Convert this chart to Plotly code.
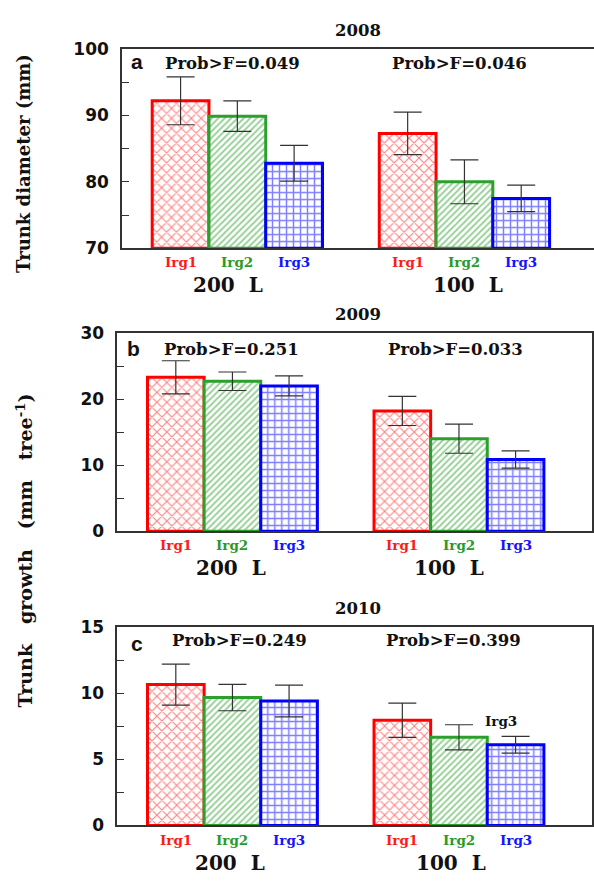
import plotly.graph_objects as go

W, H = 594, 884

# ---------------- data ----------------
treatments = ["Irg1", "Irg2", "Irg3"]
volumes = ["200\u00a0\u00a0L", "100\u00a0\u00a0L"]
years = ["2008", "2009", "2010"]
panel_letters = ["a", "b", "c"]

# rows: Irg1, Irg2, Irg3 ; columns: 200 L, 100 L
means_2008 = [[92.2, 87.3], [89.9, 80.0], [82.8, 77.5]]
errs_2008 = [[3.6, 3.2], [2.3, 3.3], [2.7, 2.0]]
means_2009 = [[23.3, 18.2], [22.7, 14.0], [22.0, 10.85]]
errs_2009 = [[2.5, 2.2], [1.4, 2.2], [1.5, 1.3]]
means_2010 = [[10.65, 7.95], [9.67, 6.66], [9.4, 6.1]]
errs_2010 = [[1.55, 1.3], [1.0, 0.95], [1.2, 0.63]]

prob_2008 = ["0.049", "0.046"]
prob_2009 = ["0.251", "0.033"]
prob_2010 = ["0.249", "0.399"]

y_ranges = [[70, 100], [0, 30], [0, 15]]
y_dticks = [10, 10, 5]
y_titles = ["Trunk\u00a0diameter\u00a0(mm)",
            "Trunk\u00a0\u00a0\u00a0growth\u00a0\u00a0\u00a0(mm\u00a0\u00a0\u00a0tree<sup>-1</sup>)"]
extra_label = "Irg3"

# ---------------- styles ----------------
colors = ["#ff0000", "#2ca02c", "#0000ff"]
label_colors = ["#ff1a1a", "#2a9a2a", "#1414ff"]
patterns = [
    dict(shape="x", size=7, solidity=0.28),
    dict(shape="/", size=4.5, solidity=0.4),
    dict(shape="+", size=7, solidity=0.38),
]
AX = "#333333"
SERIF = "DejaVu Serif"
TXT = "#111111"


def px_x(x):
    return x / W


def px_y(y):
    return 1 - y / H


# panel geometry in pixels: (left, top, right, bottom)
panels_px = [(122, 40, 594, 243.7), (117.3, 330.5, 591.7, 533.3), (117.3, 631.3, 591.7, 834.3)]
bar_px = [56.77, 56.63, 56.63]

means_all = [means_2008, means_2009, means_2010]
errs_all = [errs_2008, errs_2009, errs_2010]
probs_all = [prob_2008, prob_2009, prob_2010]

fig = go.Figure()

# positions: group g, treatment t  -> 4*g + t + 1
positions = [[4 * g + t + 1 for g in range(len(volumes))] for t in range(len(treatments))]

for i in range(3):
    xa = "x" if i == 0 else f"x{i+1}"
    ya = "y" if i == 0 else f"y{i+1}"
    for t in range(len(treatments)):
        fig.add_trace(go.Bar(
            x=positions[t],
            y=[means_all[i][t][g] - y_ranges[i][0] for g in range(len(volumes))],
            base=y_ranges[i][0],
            width=1,
            xaxis=xa, yaxis=ya,
            marker=dict(
                color="white",
                line=dict(color=colors[t], width=3),
                pattern=dict(fgcolor=colors[t], bgcolor="white", **patterns[t]),
            ),
            error_y=dict(type="data", array=errs_all[i][t], color=AX, thickness=1.2, width=14),
            showlegend=False,
        ))

layout = dict(
    width=W, height=H, margin=dict(l=0, r=0, t=0, b=0),
    paper_bgcolor="white", plot_bgcolor="white",
    barmode="overlay", showlegend=False,
)

annotations = []
group_label_x = [(228, 468), (231, 449), (230, 451)]
for i in range(3):
    L, T, R, B = panels_px[i]
    bw = bar_px[i]
    x0 = 0.5 - 30.2 / bw
    x1 = x0 + (R - L) / bw
    xkey = "xaxis" if i == 0 else f"xaxis{i+1}"
    ykey = "yaxis" if i == 0 else f"yaxis{i+1}"
    ya = "y" if i == 0 else f"y{i+1}"
    xa = "x" if i == 0 else f"x{i+1}"
    layout[xkey] = dict(
        domain=[px_x(L), px_x(R)], range=[x0, x1], anchor=ya,
        showline=True, linecolor=AX, linewidth=1.5, mirror=True,
        showgrid=False, zeroline=False, ticks="", showticklabels=False,
    )
    layout[ykey] = dict(
        domain=[px_y(B), px_y(T)], range=y_ranges[i], anchor=xa,
        showline=True, linecolor=AX, linewidth=1.5, mirror=(i != 0),
        showgrid=False, zeroline=False,
        ticks="inside", ticklen=7, tickwidth=1.3, tickcolor=AX,
        dtick=y_dticks[i], tick0=0,
        minor=dict(dtick=y_dticks[i] / 2, ticks="inside", ticklen=7, tickwidth=1.3,
                   tickcolor=AX, showgrid=False),
        tickfont=dict(family="DejaVu Sans", size=17, weight="bold", color=TXT),
        ticklabelstandoff=8,
    )
    # treatment labels under bars
    for t in range(len(treatments)):
        for g in range(len(volumes)):
            annotations.append(dict(text=treatments[t], x=positions[t][g], xref=xa,
                                    y=px_y(B + 14.5), yref="paper", showarrow=False,
                                    xanchor="center", yanchor="middle",
                                    font=dict(family=SERIF, size=13.5, weight="bold",
                                              color=label_colors[t])))
    # year title
    title_y = [21, 312, 612.5][i]
    annotations.append(dict(text=years[i], x=px_x(358), y=px_y(title_y), xref="paper", yref="paper",
                            showarrow=False, xanchor="center", yanchor="middle",
                            font=dict(family=SERIF, size=16.5, weight="bold", color=TXT)))
    # panel letter
    lx, ly = [(137, 53), (133, 346), (137, 648)][i]
    annotations.append(dict(text=panel_letters[i], x=px_x(lx), y=px_y(ly), xref="paper", yref="paper",
                            showarrow=False, xanchor="center", yanchor="middle",
                            font=dict(family="Liberation Sans", size=21, weight="bold", color=TXT)))
    # prob annotations
    pxs = [(232, 459), (231, 456), (239.5, 453.5)][i]
    py = [55, 347, 645][i]
    for g in range(len(volumes)):
        annotations.append(dict(text=f"Prob>F={probs_all[i][g]}", x=px_x(pxs[g]), y=px_y(py),
                                xref="paper", yref="paper", showarrow=False,
                                xanchor="center", yanchor="middle",
                                font=dict(family=SERIF, size=16.5, weight="bold", color=TXT)))
    # group labels
    for g in range(len(volumes)):
        annotations.append(dict(text=volumes[g], x=px_x(group_label_x[i][g]), xref="paper",
                                y=px_y(B + 38), yref="paper",
                                showarrow=False, xanchor="center", yanchor="middle",
                                font=dict(family=SERIF, size=20, weight="bold", color=TXT)))

# y axis titles
annotations.append(dict(text=y_titles[0], x=px_x(24), y=px_y(157.5), xref="paper", yref="paper",
                        showarrow=False, textangle=-90, xanchor="center", yanchor="middle",
                        font=dict(family=SERIF, size=18, weight="bold", color=TXT)))
annotations.append(dict(text=y_titles[1], x=px_x(25), y=px_y(553), xref="paper", yref="paper",
                        showarrow=False, textangle=-90, xanchor="center", yanchor="middle",
                        font=dict(family=SERIF, size=19, weight="bold", color=TXT)))
# stray "Irg3" label in panel c
annotations.append(dict(text=extra_label, x=positions[2][1], xref="x3", y=7.86, yref="y3",
                        xshift=-15, showarrow=False, xanchor="center", yanchor="middle",
                        font=dict(family=SERIF, size=13.5, weight="bold", color=TXT)))

layout["annotations"] = annotations
fig.update_layout(**layout)
fig.write_html("out.html")
